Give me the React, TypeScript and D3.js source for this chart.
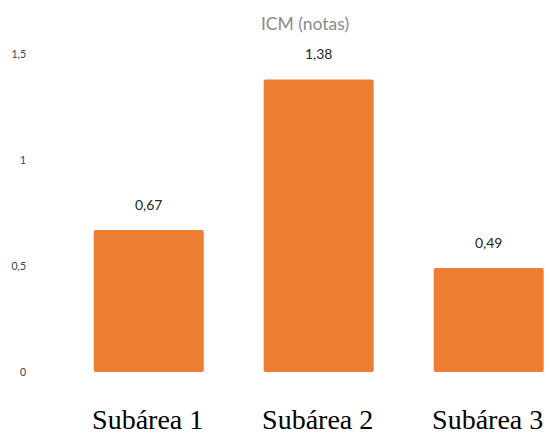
import React from 'react';
import * as d3 from 'd3';

// Chart data
const categories = ['Subárea 1', 'Subárea 2', 'Subárea 3'];
const values = [0.67, 1.38, 0.49];
const yTicks = [0, 0.5, 1, 1.5];
const title = 'ICM (notas)';

const WIDTH = 550;
const HEIGHT = 434;
const BAR_COLOR = '#ED7D31';
const SANS = 'Lato, "Open Sans", sans-serif';

const fmt = (v: number) => String(v).replace('.', ',');

const App = () => {
  // step 170, bar width ~110
  const x = d3.scaleBand<string>()
    .domain(categories)
    .range([63.7, 573.7])
    .paddingInner(0.353)
    .paddingOuter(0.1765);

  const y = d3.scaleLinear()
    .domain([0, 1.5])
    .range([372, 54]);

  return (
    <div style={{ position: 'fixed', top: 0, left: 0 }}>
      <svg width={WIDTH} height={HEIGHT} style={{ display: 'block', background: '#fff' }}>
        <text x={305} y={30} textAnchor="middle" fontFamily={SANS} fontSize={17.5} fill="#8a8a8a">
          {title}
        </text>

        {/* y tick labels, no axis line */}
        {yTicks.map(t => (
          <text
            key={t}
            x={26}
            y={y(t)}
            dy="0.35em"
            textAnchor="end"
            fontFamily={SANS}
            fontSize={10.5}
            fill="#404040"
          >
            {fmt(t)}
          </text>
        ))}

        {categories.map((c, i) => {
          const bx = x(c) ?? 0;
          const top = y(values[i]);
          return (
            <g key={c}>
              <rect
                x={bx}
                y={top}
                width={x.bandwidth()}
                height={y(0) - top}
                rx={2}
                fill={BAR_COLOR}
              />
              <text
                x={bx + x.bandwidth() / 2}
                y={top - 20}
                textAnchor="middle"
                fontFamily={SANS}
                fontSize={14}
                fill="#262626"
              >
                {fmt(values[i])}
              </text>
              <text
                x={bx + x.bandwidth() / 2 - 1}
                y={429}
                textAnchor="middle"
                fontFamily='"Liberation Serif", "Times New Roman", serif'
                fontSize={28}
                fill="#000"
              >
                {c}
              </text>
            </g>
          );
        })}
      </svg>
    </div>
  );
};

export default App;
